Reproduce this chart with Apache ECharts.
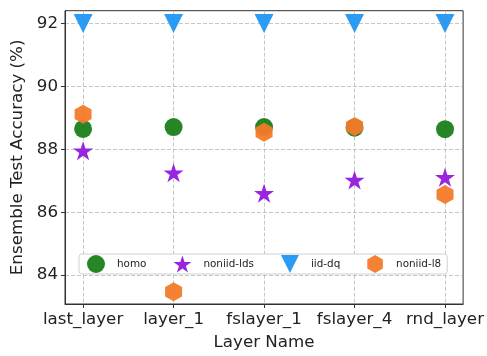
<!DOCTYPE html>
<html><head><meta charset="utf-8">
<script src="https://cdn.jsdelivr.net/npm/echarts@6/dist/echarts.min.js"></script>
<style>html,body{margin:0;padding:0;background:#fff}#c{width:487px;height:356px}</style>
</head><body><div id="c"></div>
<script>
const categories = ['last_layer', 'layer_1', 'fslayer_1', 'fslayer_4', 'rnd_layer'];
const seriesNames = ['homo', 'noniid-lds', 'iid-dq', 'noniid-l8'];
const homo = [88.65, 88.71, 88.71, 88.69, 88.64];
const noniidLds = [87.92, 87.22, 86.57, 86.99, 87.08];
const iidDq = [92.0, 92.0, 92.0, 92.0, 92.0];
const noniidL8 = [89.12, 83.47, 88.54, 88.73, 86.56];
const yTicks = [84, 86, 88, 90, 92];

const F = 'DejaVu Sans';
const STAR = 'path://M0,-1 L0.2245,-0.309 L0.951,-0.309 L0.3633,0.118 L0.588,0.809 L0,0.382 L-0.588,0.809 L-0.3633,0.118 L-0.951,-0.309 L-0.2245,-0.309 Z';
const TRI = 'path://M0,0 L2,0 L1,2 Z';
const HEX = 'path://M0,-1 L0.866,-0.5 L0.866,0.5 L0,1 L-0.866,0.5 L-0.866,-0.5 Z';

function pts(arr) { return arr.map((v, i) => [i, v]); }

const chart = echarts.init(document.getElementById('c'), null, {renderer: 'canvas'});
const gridLine = {show: true, lineStyle: {color: '#b8b8b8', type: [4, 2], width: 0.8}};
chart.setOption({
  animation: false,
  textStyle: {fontFamily: F},
  grid: {left: 65, right: 21, top: 10.7, bottom: 46, show: true, borderColor: '#333', borderWidth: 1},
  legend: {
    left: 79, top: 254, width: 372,
    data: seriesNames,
    orient: 'horizontal',
    itemWidth: 18, itemHeight: 18, itemGap: 27,
    backgroundColor: '#fff', borderColor: '#d0d0d0', borderWidth: 1, borderRadius: 3,
    padding: [1, 6, 1, 8],
    textStyle: {fontFamily: F, fontSize: 10.4, color: '#222', padding: [0, 0, 0, 7]}
  },
  xAxis: {
    type: 'value', min: -0.2, max: 4.2,
    name: 'Layer Name', nameLocation: 'middle', nameGap: 30,
    nameTextStyle: {fontFamily: F, fontSize: 16.7, color: '#222'},
    axisLine: {show: true, onZero: false, lineStyle: {color: '#333'}},
    axisTick: {show: true, length: 4, lineStyle: {color: '#333'}, customValues: [0, 1, 2, 3, 4]},
    axisLabel: {fontFamily: F, fontSize: 16.7, color: '#222', margin: 7,
      customValues: [0, 1, 2, 3, 4],
      formatter: v => categories[Math.round(v)] || ''},
    splitLine: gridLine
  },
  yAxis: {
    type: 'value', min: 83.08, max: 92.41,
    name: 'Ensemble Test Accuracy (%)', nameLocation: 'middle', nameGap: 31,
    nameTextStyle: {fontFamily: F, fontSize: 16.7, color: '#222'},
    axisLine: {show: true, onZero: false, lineStyle: {color: '#333'}},
    axisTick: {show: true, length: 4, lineStyle: {color: '#333'}, customValues: yTicks},
    axisLabel: {fontFamily: F, fontSize: 16.7, color: '#222', margin: 7, customValues: yTicks},
    splitLine: gridLine
  },
  series: [
    {name: seriesNames[0], type: 'scatter', data: pts(homo), symbol: 'circle', symbolSize: 18,
     itemStyle: {color: '#1a801a', opacity: 0.95}},
    {name: seriesNames[1], type: 'scatter', data: pts(noniidLds), symbol: STAR, symbolSize: [20, 19], symbolOffset: [0, -1],
     itemStyle: {color: '#9419dc', opacity: 0.95}},
    {name: seriesNames[2], type: 'scatter', data: pts(iidDq), symbol: TRI, symbolSize: [19, 19],
     itemStyle: {color: '#2196f3', opacity: 0.95}},
    {name: seriesNames[3], type: 'scatter', data: pts(noniidL8), symbol: HEX, symbolSize: [17, 19],
     itemStyle: {color: '#f47a2a', opacity: 0.95}}
  ]
});
</script></body></html>
